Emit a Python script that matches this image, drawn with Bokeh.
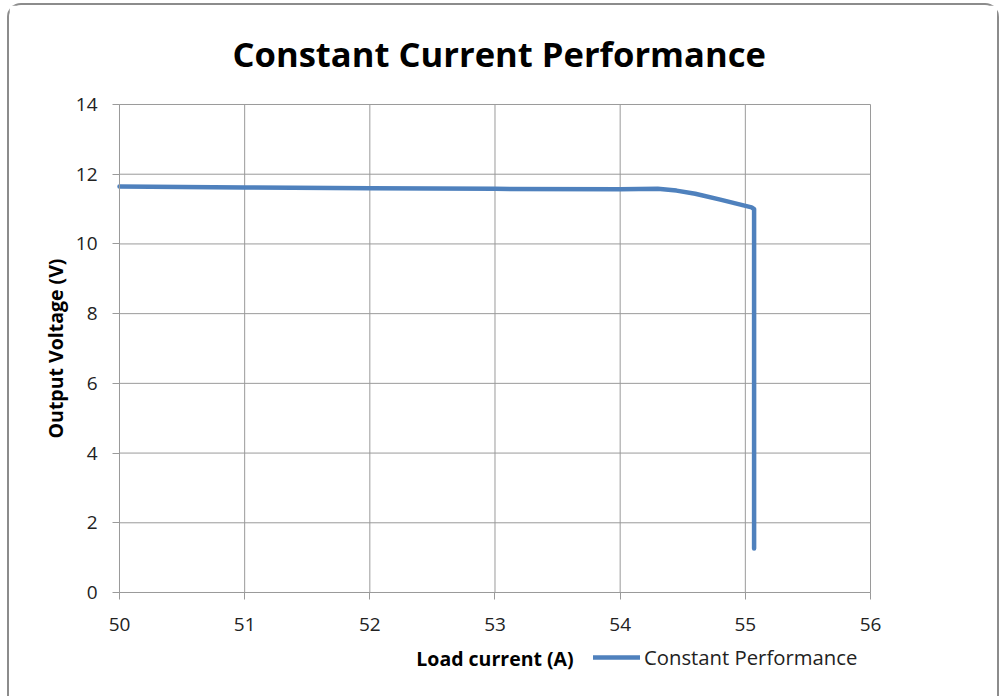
import math
from bokeh.plotting import figure
from bokeh.models import Range1d, FixedTicker, Legend, LegendItem, Label
from bokeh.embed import file_html
from bokeh.resources import INLINE

# Data
load_current = [50.0, 51.0, 52.0, 53.0, 54.0, 54.3, 54.45, 54.6, 54.8, 55.05, 55.07, 55.07]
output_voltage = [11.65, 11.62, 11.60, 11.58, 11.57, 11.58, 11.53, 11.44, 11.27, 11.05, 11.0, 1.26]
x_ticks = [50, 51, 52, 53, 54, 55, 56]
y_ticks = [0, 2, 4, 6, 8, 10, 12, 14]
x_title = "Load current (A)"
y_title = "Output Voltage (V)"
series_name = "Constant Performance"

FONT = "Open Sans"
GRID = "#9a9a9a"

# The frame covers the whole canvas below the title, so that tick labels, axis
# titles and the legend (which sits beside the x title below the axis in the
# reference) are drawn inside it; both axes are pinned to the data area edges.
p = figure(width=992, height=693, output_backend="svg", toolbar_location=None,
           x_range=Range1d(49.1212, 57.0466), y_range=Range1d(-3.041, 14.459),
           min_border_left=0, min_border_right=0, min_border_top=83, min_border_bottom=0,
           title="Constant Current Performance")
p.styles = {"margin-left": "7px", "margin-top": "3px",
            "border-left": "2px solid #8c8c8c", "border-top": "2px solid #8c8c8c",
            "border-right": "2px solid #8c8c8c",
            "border-top-left-radius": "14px", "border-top-right-radius": "14px"}
p.background_fill_color = "white"
p.border_fill_color = "white"
p.outline_line_color = None
p.grid.visible = False

p.title.align = "left"
p.title.text_font = FONT
p.title.text_font_size = "34.6px"
p.title.text_font_style = "bold"
p.title.text_color = "#000000"
p.title.offset = 223
p.title.standoff = 23

# grid lines over the data area, at the tick values
p.segment(x0=x_ticks, y0=[y_ticks[0]] * len(x_ticks), x1=x_ticks, y1=[y_ticks[-1]] * len(x_ticks),
          line_color=GRID, line_width=1)
p.segment(x0=[x_ticks[0]] * len(y_ticks), y0=y_ticks, x1=[x_ticks[-1]] * len(y_ticks), y1=y_ticks,
          line_color=GRID, line_width=1)

for ax in (p.xaxis[0], p.yaxis[0]):
    ax.axis_line_color = GRID
    ax.major_tick_line_color = GRID
    ax.major_tick_out = 7
    ax.major_tick_in = 0
    ax.minor_tick_line_color = None
    ax.major_label_text_font = FONT
    ax.major_label_text_font_size = "19px"
    ax.major_label_text_color = "#222222"

p.xaxis.ticker = FixedTicker(ticks=x_ticks)
p.yaxis.ticker = FixedTicker(ticks=y_ticks)
p.xaxis.fixed_location = y_ticks[0]
p.yaxis.fixed_location = x_ticks[0]
p.xaxis.bounds = (x_ticks[0], x_ticks[-1])
p.yaxis.bounds = (y_ticks[0], y_ticks[-1])
p.xaxis.major_label_standoff = 19
p.yaxis.major_label_standoff = 15

r = p.line(load_current, output_voltage, line_color="#4f81bd", line_width=4.5,
           line_join="round", line_cap="round")

# axis titles
p.add_layout(Label(x=(x_ticks[0] + x_ticks[-1]) / 2, y=40, x_units="data", y_units="screen",
                   text=x_title, text_font=FONT, text_font_size="19.5px", text_font_style="bold",
                   text_color="#000000", text_align="center", text_baseline="middle"))
p.add_layout(Label(x=46, y=(y_ticks[0] + y_ticks[-1]) / 2, x_units="screen", y_units="data",
                   text=y_title, angle=math.pi / 2, text_font=FONT, text_font_size="19.5px",
                   text_font_style="bold", text_color="#000000", text_align="center",
                   text_baseline="middle"))

legend = Legend(items=[LegendItem(label=series_name, renderers=[r])],
                location=(584, 27), orientation="horizontal",
                glyph_width=47, glyph_height=24, label_standoff=4,
                padding=0, margin=0, border_line_color=None, background_fill_alpha=0,
                label_text_font=FONT, label_text_font_size="20.3px", label_text_color="#222222")
p.add_layout(legend, "center")

open("out.html", "w").write(file_html(p, INLINE))
